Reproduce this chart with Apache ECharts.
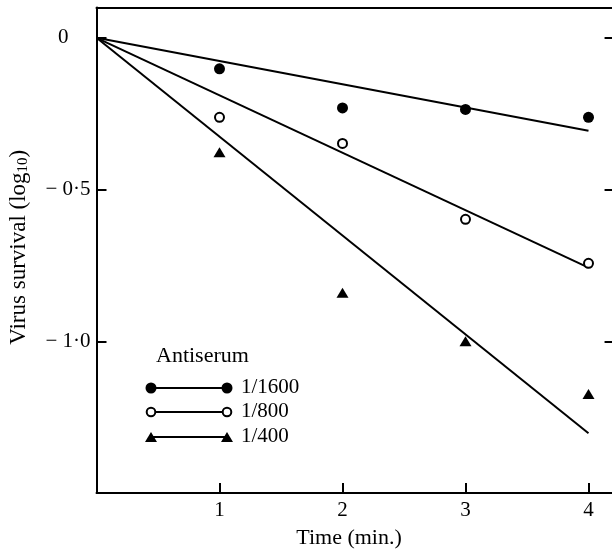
<!DOCTYPE html>
<html>
<head>
<meta charset="utf-8">
<script src="https://cdn.jsdelivr.net/npm/echarts@6/dist/echarts.min.js"></script>
<style>
html,body{margin:0;padding:0;background:#fff;}
#chart{width:612px;height:552px;}
</style>
</head>
<body>
<div id="chart"></div>
<script>
// ---- data ----
const times = [1, 2, 3, 4];
const s1600 = [-0.102, -0.231, -0.236, -0.262];
const s800 = [-0.262, -0.348, -0.598, -0.743];
const s400 = [-0.377, -0.840, -1.000, -1.174];
const fitTimes = [0, 4];
const fit1600 = [0, -0.306];
const fit800 = [0, -0.757];
const fit400 = [0, -1.303];
const legendTitle = 'Antiserum';
const legendLabels = ['1/1600', '1/800', '1/400'];
const yTickLabels = {'0': '{z|0}', '-0.5': '\u2212 0\u00b75', '-1': '\u2212 1\u00b70'};
const xTickLabels = {'1': '1', '2': '2', '3': '3', '4': '4'};

const FONT = '"Liberation Serif", "DejaVu Serif", serif';
const pair = (xs, ys) => xs.map((x, i) => [x, ys[i]]);

const chart = echarts.init(document.getElementById('chart'), null, {renderer: 'canvas'});

const axisLine = {show: true, onZero: false, lineStyle: {color: '#000', width: 2}};
const X_MAX = 4.22;

// legend drawn as graphic (marker — line — marker  label)
const legY = [388, 412, 437];
const legX1 = 151, legX2 = 227, legTX = 241;
const graphics = [
  {type: 'text', left: 156, top: 357 - 12, style: {text: legendTitle, font: '22px ' + FONT, fill: '#000'}}
];
legendLabels.forEach((lab, i) => {
  const y = legY[i];
  graphics.push({type: 'line', shape: {x1: legX1, y1: y, x2: legX2, y2: y}, style: {stroke: '#000', lineWidth: 2}});
  const mk = (cx) => {
    if (i === 0) return {type: 'circle', shape: {cx: cx, cy: y, r: 5.5}, style: {fill: '#000'}};
    if (i === 1) return {type: 'circle', shape: {cx: cx, cy: y, r: 4.3}, style: {fill: '#fff', stroke: '#000', lineWidth: 2}};
    return {type: 'polygon', shape: {points: [[cx - 6, y + 5], [cx + 6, y + 5], [cx, y - 5]]}, style: {fill: '#000'}};
  };
  graphics.push(mk(legX1));
  graphics.push(mk(legX2));
  graphics.push({type: 'text', left: legTX, top: y - 11, style: {text: lab, font: '21px ' + FONT, fill: '#000'}});
});

const option = {
  backgroundColor: '#fff',
  animation: false,
  textStyle: {fontFamily: FONT},
  grid: {left: 96.5, top: 7.5, width: 123 * X_MAX, height: 485.5, containLabel: false, outerBoundsMode: 'none'},
  xAxis: [
    {
      type: 'value', min: 0, max: X_MAX, interval: 1, position: 'bottom',
      name: 'Time (min.)', nameLocation: 'middle', nameGap: 34,
      nameTextStyle: {fontFamily: FONT, fontSize: 22, color: '#000', padding: [0, 14, 0, 0]},
      axisLine: axisLine,
      axisTick: {show: true, inside: true, length: 10, lineStyle: {color: '#000', width: 2}},
      axisLabel: {
        color: '#000', fontFamily: FONT, fontSize: 21, margin: 7,
        showMinLabel: false, showMaxLabel: false,
        formatter: v => xTickLabels[String(v)] || ''
      },
      splitLine: {show: false}
    },
    {
      type: 'value', min: 0, max: X_MAX, position: 'top',
      axisLine: axisLine, axisTick: {show: false}, axisLabel: {show: false}, splitLine: {show: false}
    }
  ],
  yAxis: [
    {
      type: 'value', min: -1.5, max: 0.1, interval: 0.5, position: 'left',
      name: 'Virus survival (log{sub|10})', nameLocation: 'middle', nameGap: 66, nameRotate: 90,
      nameTextStyle: {
        fontFamily: FONT, fontSize: 23, color: '#000', padding: [0, 0, 0, 6],
        rich: {sub: {fontFamily: FONT, fontSize: 15, color: '#000', verticalAlign: 'bottom', padding: [9, 0, 0, 0]}}
      },
      axisLine: axisLine,
      axisTick: {show: true, inside: true, length: 10, lineStyle: {color: '#000', width: 2}},
      axisLabel: {
        color: '#000', fontFamily: FONT, fontSize: 21, margin: 6,
        showMinLabel: false, showMaxLabel: false,
        formatter: v => yTickLabels[String(Math.round(v * 10) / 10)] || '',
        rich: {z: {fontFamily: FONT, fontSize: 21, color: '#000', padding: [0, 22, 0, 0]}}
      },
      splitLine: {show: false}
    },
    {
      type: 'value', min: -1.5, max: 0.1, interval: 0.5, position: 'right',
      axisLine: axisLine,
      axisTick: {show: true, inside: true, length: 11, lineStyle: {color: '#000', width: 2}},
      axisLabel: {show: false}, splitLine: {show: false}
    }
  ],
  series: [
    {type: 'line', data: pair(fitTimes, fit1600), symbol: 'none', lineStyle: {color: '#000', width: 2}, z: 2},
    {type: 'line', data: pair(fitTimes, fit800), symbol: 'none', lineStyle: {color: '#000', width: 2}, z: 2},
    {type: 'line', data: pair(fitTimes, fit400), symbol: 'none', lineStyle: {color: '#000', width: 2}, z: 2},
    {type: 'scatter', data: pair(times, s1600), symbol: 'circle', symbolSize: 11, itemStyle: {color: '#000', opacity: 1}, z: 3},
    {type: 'scatter', data: pair(times, s800), symbol: 'circle', symbolSize: 9, itemStyle: {color: '#fff', borderColor: '#000', borderWidth: 2, opacity: 1}, z: 3},
    {type: 'scatter', data: pair(times, s400), symbol: 'triangle', symbolSize: [12, 10], itemStyle: {color: '#000', opacity: 1}, z: 3}
  ],
  graphic: graphics
};
chart.setOption(option);
</script>
</body>
</html>
